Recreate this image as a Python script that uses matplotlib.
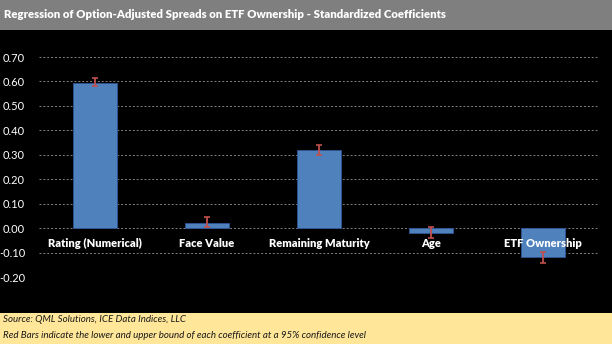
import matplotlib
matplotlib.use('Agg')
import matplotlib.pyplot as plt
from matplotlib.patches import Rectangle

# data
categories = ['Rating (Numerical)', 'Face Value', 'Remaining Maturity', 'Age', 'ETF Ownership']
coefs = [0.593, 0.022, 0.318, -0.018, -0.118]
lower = [0.580, 0.005, 0.300, -0.040, -0.142]
upper = [0.615, 0.045, 0.340, 0.005, -0.097]
yticks = [-0.20, -0.10, 0.00, 0.10, 0.20, 0.30, 0.40, 0.50, 0.60, 0.70]

plt.rcParams['font.family'] = ['Lato', 'DejaVu Sans']
plt.rcParams['axes.unicode_minus'] = False

fig = plt.figure(figsize=(6.12, 3.44), dpi=100)
fig.patch.set_facecolor('black')

# header and footer bands
fig.patches.append(Rectangle((0, 1 - 30 / 344), 1, 30 / 344, transform=fig.transFigure,
                             facecolor='#7f7f7f', edgecolor='none', zorder=0))
fig.patches.append(Rectangle((0, 0), 1, 31 / 344, transform=fig.transFigure,
                             facecolor='#ffe699', edgecolor='none', zorder=0))
fig.text(4 / 612, 1 - 15 / 344, 'Regression of Option-Adjusted Spreads on ETF Ownership - Standardized Coefficients',
         color='white', fontsize=8.2, fontweight='heavy', va='center', ha='left')
fig.text(3 / 612, 1 - 320 / 344, 'Source: QML Solutions, ICE Data Indices, LLC',
         color='#1a1a1a', fontsize=7, style='italic', va='center', ha='left')
fig.text(3 / 612, 1 - 336 / 344, 'Red Bars indicate the lower and upper bound of each coefficient at a 95% confidence level',
         color='#1a1a1a', fontsize=7, style='italic', va='center', ha='left')

ax = fig.add_axes([39 / 612, 1 - 277 / 344, 560 / 612, 220 / 344])
ax.set_facecolor('black')

x = list(range(len(categories)))
yerr = [[c - lo for c, lo in zip(coefs, lower)], [hi - c for c, hi in zip(coefs, upper)]]
ax.bar(x, coefs, width=0.4, color='#4f81bd', edgecolor='#2f5597', linewidth=0.6, zorder=2)
ax.errorbar(x, coefs, yerr=yerr, fmt='none', ecolor='#c0504d', elinewidth=1.3,
            capsize=2.5, capthick=1.2, zorder=3)

for xi, name in zip(x, categories):
    ax.text(xi, -0.062, name, color='white', fontsize=8, fontweight='heavy',
            ha='center', va='center', zorder=4)

ax.set_xlim(-0.5, len(categories) - 0.5)
ax.set_ylim(-0.2, 0.7)
ax.set_yticks(yticks)
ax.set_yticklabels([f'{v:.2f}' for v in yticks])
ax.set_xticks([])
ax.tick_params(axis='y', colors='white', labelsize=8, length=0, pad=10)
ax.grid(axis='y', color='#808080', linestyle=(0, (2, 2)), linewidth=0.7, zorder=1)
for s in ax.spines.values():
    s.set_visible(False)

fig.savefig('out.png', dpi=100, facecolor=fig.get_facecolor())
